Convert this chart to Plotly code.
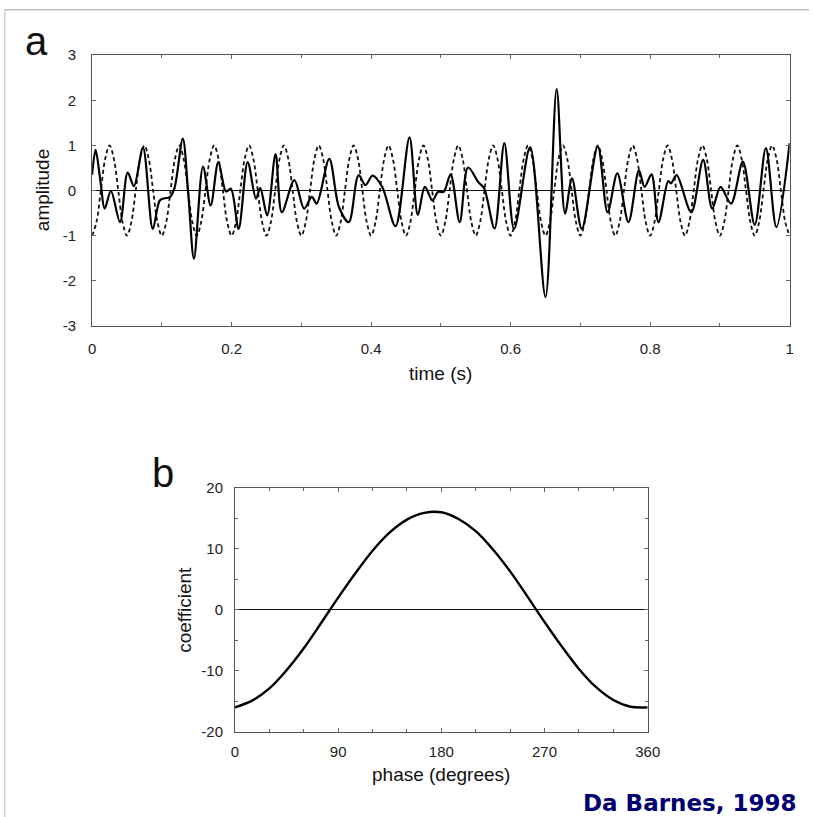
import plotly.graph_objects as go

# ---- panel a : time signal (solid) and 20 Hz reference (dashed) ----
sig_t = [0.000, 0.005, 0.012, 0.018, 0.027, 0.040, 0.051, 0.060, 0.073, 0.087,
         0.097, 0.104, 0.111, 0.118, 0.130, 0.138, 0.146, 0.159, 0.170, 0.181,
         0.192, 0.199, 0.210, 0.223, 0.235, 0.241, 0.251, 0.263, 0.272, 0.290,
         0.304, 0.315, 0.322, 0.340, 0.354, 0.368, 0.382, 0.392, 0.402, 0.416,
         0.435, 0.455, 0.467, 0.477, 0.488, 0.496, 0.504, 0.514, 0.527, 0.539,
         0.554, 0.562, 0.577, 0.591, 0.605, 0.628, 0.650, 0.666, 0.678, 0.688,
         0.702, 0.725, 0.739, 0.753, 0.769, 0.784, 0.792, 0.802, 0.812, 0.826,
         0.830, 0.838, 0.859, 0.876, 0.889, 0.901, 0.916, 0.933, 0.950, 0.966,
         0.981, 1.000]
sig_y = [0.35, 0.90, 0.20, -0.40, -0.01, -0.70, 0.40, 0.10, 0.95, -0.85,
         -0.22, -0.17, -0.15, 0.05, 1.15, -0.10, -1.51, 0.53, -0.33, 0.63,
         -0.02, 0.04, -0.85, 0.63, -0.18, 0.06, -0.55, 0.81, -0.48, 0.23,
         -0.40, -0.14, -0.29, 0.70, -0.37, -0.70, 0.34, 0.12, 0.33, 0.08,
         -0.79, 1.18, -0.54, 0.08, -0.22, -0.03, -0.03, 0.36, -0.70, 0.51,
         0.18, 0.05, -0.84, 1.05, -0.85, 0.96, -2.36, 2.25, -0.51, 0.27,
         -0.85, 0.98, -0.48, 0.38, -0.70, 0.45, 0.08, 0.36, -0.70, 0.21,
         0.16, 0.34, -0.48, 0.68, -0.40, 0.08, -0.29, 0.64, -0.76, 0.94,
         -0.81, 1.05]

# dashed reference: one read cycle (period 0.05 s), sampled every 1/8 period
ref_cycle = [-1.0, -0.7, 0.0, 0.7, 1.0, 0.7, 0.0, -0.7]
ref_step = 0.00625
ref_y = ref_cycle * 20 + [-1.0]
ref_t = [i * ref_step for i in range(len(ref_y))]

a_yticks = [3, 2, 1, 0, -1, -2, -3]
a_yticklabels = ["3", "2", "1", "0", "-1", "-2", "-3"]
a_xticks = [0, 0.2, 0.4, 0.6, 0.8, 1]
a_xticklabels = ["0", "0.2", "0.4", "0.6", "0.8", "1"]

# ---- panel b : coefficient vs phase ----
phase = [0, 15, 30, 45, 60, 75, 90, 105, 120, 135, 150, 165, 180,
         195, 210, 225, 240, 255, 270, 285, 300, 315, 330, 345, 360]
coef = [-16.0, -14.9, -12.9, -9.9, -6.3, -2.2, 2.0, 6.0, 9.7, 12.7, 14.8, 15.9, 16.0,
        14.9, 12.9, 9.9, 6.3, 2.2, -2.0, -6.0, -9.7, -12.7, -14.8, -15.9, -16.0]
b_yticks = [20, 10, 0, -10, -20]
b_yticklabels = ["20", "10", "0", "-10", "-20"]
b_xticks = [0, 90, 180, 270, 360]

# calibration of page placement (body margin and capture scale)
K = 0.98
OFF = 8
W, H = 822, 826
def px(x):
    return ((x + 4) / K - OFF) / W
def py(y):
    return 1 - ((y - 1) / K - OFF) / H

fig = go.Figure()
fig.add_trace(go.Scatter(x=ref_t, y=ref_y, mode="lines", xaxis="x", yaxis="y",
                         line=dict(color="#111", width=1.8, dash="4px,3px", shape="spline", smoothing=1),
                         showlegend=False, hoverinfo="skip"))
fig.add_trace(go.Scatter(x=sig_t, y=sig_y, mode="lines", xaxis="x", yaxis="y",
                         line=dict(color="#000", width=2.2, shape="spline", smoothing=0.9),
                         showlegend=False))
fig.add_trace(go.Scatter(x=phase, y=coef, mode="lines", xaxis="x2", yaxis="y2",
                         line=dict(color="#000", width=2.4, shape="spline", smoothing=1),
                         showlegend=False))

tickfont = dict(family="Liberation Sans, Arial, sans-serif", size=15, color="#222")
axcommon = dict(showgrid=False, zeroline=True, zerolinecolor="#111", zerolinewidth=1,
                showline=True, linecolor="#555", linewidth=1, mirror="ticks",
                ticks="inside", ticklen=4, tickcolor="#666", tickfont=tickfont)

fig.update_layout(
    width=W, height=H,
    margin=dict(l=0, r=0, t=0, b=0),
    paper_bgcolor="white", plot_bgcolor="white",
    xaxis=dict(domain=[px(92), px(790)], anchor="y", range=[0, 1],
               tickvals=a_xticks, ticktext=a_xticklabels, ticklabelstandoff=9,
               minor=dict(dtick=0.1, ticks="inside", ticklen=3, tickcolor="#666"),
               **axcommon),
    yaxis=dict(domain=[py(326), py(55)], anchor="x", range=[-3, 3],
               tickvals=a_yticks, ticktext=a_yticklabels, ticklabelstandoff=12,
               **axcommon),
    xaxis2=dict(domain=[px(235), px(648)], anchor="y2", range=[0, 360],
                tickvals=b_xticks, ticklabelstandoff=6,
                minor=dict(dtick=30, ticks="inside", ticklen=3, tickcolor="#666"),
                **axcommon),
    yaxis2=dict(domain=[py(732), py(488)], anchor="x2", range=[-20, 20],
                tickvals=b_yticks, ticktext=b_yticklabels, ticklabelstandoff=8,
                minor=dict(dtick=5, ticks="inside", ticklen=3, tickcolor="#666"),
                **axcommon),
)

titlefont = dict(family="Liberation Sans, Arial, sans-serif", size=19, color="#111")
anns = [
    dict(text="a", x=px(36), y=py(41), font=dict(family="Liberation Sans, Arial", size=40, color="#111")),
    dict(text="b", x=px(163), y=py(473), font=dict(family="Liberation Sans, Arial", size=40, color="#111")),
    dict(text="amplitude", x=px(42), y=py(190), textangle=-90, font=titlefont),
    dict(text="time (s)", x=px(441), y=py(374), font=titlefont),
    dict(text="coefficient", x=px(185), y=py(610), textangle=-90, font=titlefont),
    dict(text="phase (degrees)", x=px(441), y=py(775), font=titlefont),
    dict(text="<b>Da Barnes, 1998</b>", x=px(581), y=py(803), xanchor="left",
         font=dict(family="DejaVu Sans, sans-serif", size=23, color="#000070")),
]
for a in anns:
    a.setdefault("xanchor", "center")
    fig.add_annotation(xref="paper", yref="paper", showarrow=False, yanchor="middle", **a)

# page frame lines (top and left)
fig.add_shape(type="line", xref="paper", yref="paper", x0=0.001, x1=1, y0=0.999, y1=0.999,
              line=dict(color="#999", width=1))
fig.add_shape(type="line", xref="paper", yref="paper", x0=0.001, x1=0.001, y0=0.999, y1=0,
              line=dict(color="#bbb", width=1))

fig.write_html("out.html")
